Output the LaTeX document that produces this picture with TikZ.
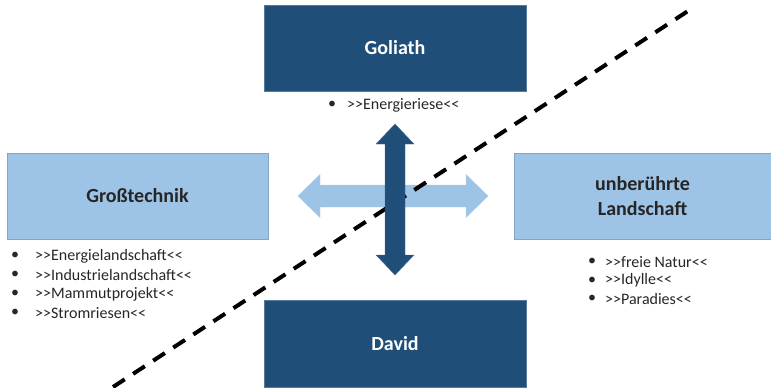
\documentclass[tikz,border=0pt]{standalone}
\usepackage{fontspec}
\setmainfont{Carlito}
\definecolor{davidblue}{HTML}{1F4E79}
\definecolor{landblue}{HTML}{9DC3E6}
\tikzset{
  darkbox/.style={draw=davidblue!75!white, fill=davidblue, text=white,
    font=\fontsize{20}{25}\selectfont\bfseries, inner sep=0pt, align=center},
  lightbox/.style={draw=landblue!85!black, fill=landblue, text=black!85,
    font=\fontsize{20}{25}\selectfont\bfseries, inner sep=0pt, align=center},
  listtext/.style={anchor=west, inner sep=0pt, text=black!85,
    font=\fontsize{16}{18}\selectfont},
  listdot/.style={inner sep=0pt, text=black!85, font=\fontsize{16}{18}\selectfont}
}
\begin{document}
\begin{tikzpicture}[x=1pt,y=-1pt]
\useasboundingbox (0,0) rectangle (771,388);
% boxes
\node[darkbox, minimum width=262pt, minimum height=86pt] (goliath) at (395,48) {Goliath};
\node[darkbox, minimum width=262pt, minimum height=87pt] (david) at (395,344) {David};
\node[lightbox, minimum width=261pt, minimum height=86pt] (gross) at (137.5,196) {Großtechnik};
\node[lightbox, minimum width=257pt, minimum height=86pt] (land) at (642.5,196) {unberührte\\Landschaft};
% arrows
\filldraw[fill=landblue, draw=landblue!80!white] (298,196) -- (320,174.5) -- (320,185) -- (466,185)
  -- (466,174.5) -- (488,196) -- (466,217.5) -- (466,207) -- (320,207) -- (320,217.5) -- cycle;
\draw[line width=4pt, dash pattern=on 14pt off 10pt] (113,387) -- (688,11);
\filldraw[fill=davidblue, draw=davidblue!80!white] (395,124) -- (414,144) -- (405,144) -- (405,255)
  -- (414,255) -- (395,275) -- (376,255) -- (385,255) -- (385,144) -- (376,144) -- cycle;
% lists
\node[listdot] (g0) at (332,105) {•};
\node[listtext] (gt0) at (347,105) {>{}>Energieriese<{}<};
\foreach \t [count=\i from 0] in {Energielandschaft,Industrielandschaft,Mammutprojekt,Stromriesen}
{
  \node[listdot] (l\i) at (15,256+19*\i) {•};
  \node[listtext] (lt\i) at (35,256+19*\i) {>{}>\t<{}<};
}
\foreach \t [count=\i from 0] in {freie Natur,Idylle,Paradies}
{
  \node[listdot] (r\i) at (592,262+18.5*\i) {•};
  \node[listtext] (rt\i) at (605,262+18.5*\i) {>{}>\t<{}<};
}
\end{tikzpicture}
\end{document}
